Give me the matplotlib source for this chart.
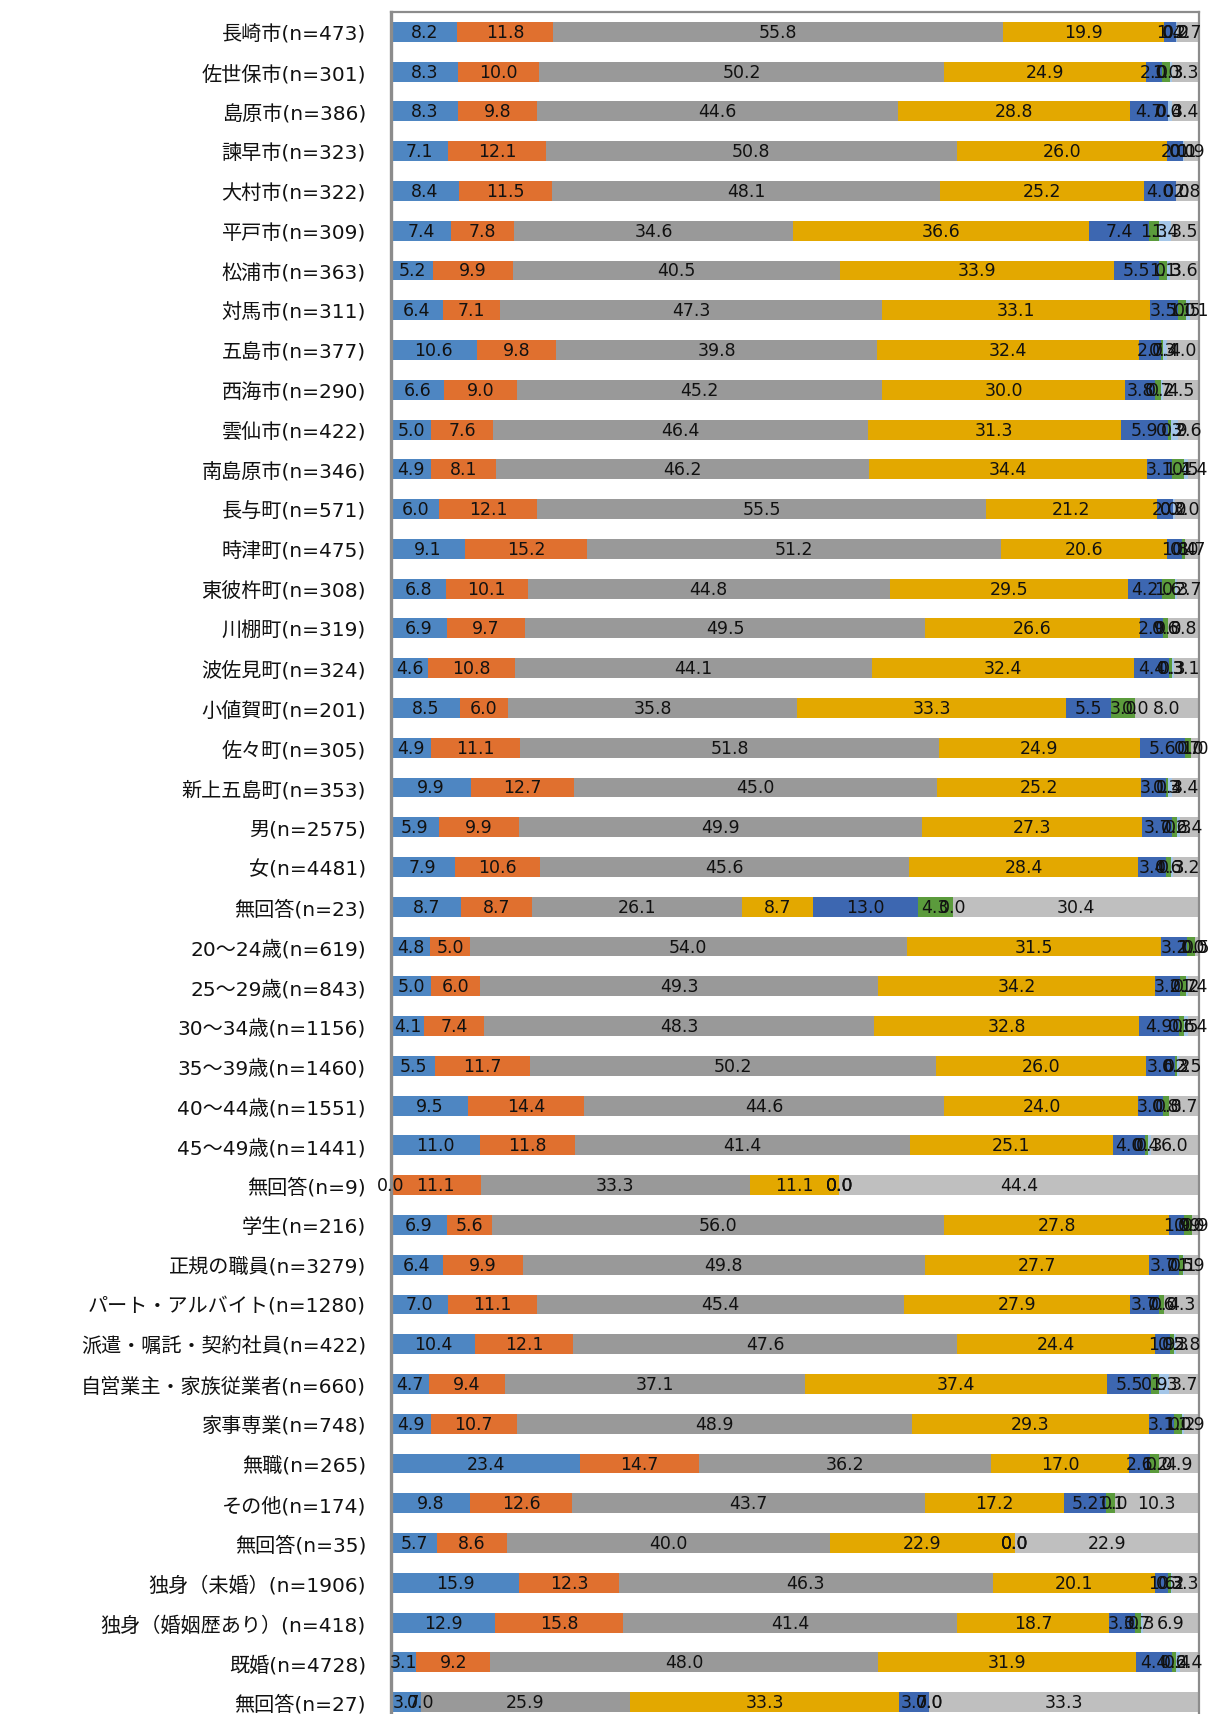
import numpy as np
import matplotlib
matplotlib.use('Agg')
import matplotlib.pyplot as plt

plt.rcParams['font.family'] = ['DejaVu Sans', 'Noto Sans CJK JP']

categories = [
    '長崎市(n=473)', '佐世保市(n=301)', '島原市(n=386)', '諫早市(n=323)', '大村市(n=322)',
    '平戸市(n=309)', '松浦市(n=363)', '対馬市(n=311)', '五島市(n=377)', '西海市(n=290)',
    '雲仙市(n=422)', '南島原市(n=346)', '長与町(n=571)', '時津町(n=475)', '東彼杵町(n=308)',
    '川棚町(n=319)', '波佐見町(n=324)', '小値賀町(n=201)', '佐々町(n=305)', '新上五島町(n=353)',
    '男(n=2575)', '女(n=4481)', '無回答(n=23)',
    '20～24歳(n=619)', '25～29歳(n=843)', '30～34歳(n=1156)', '35～39歳(n=1460)',
    '40～44歳(n=1551)', '45～49歳(n=1441)', '無回答(n=9)',
    '学生(n=216)', '正規の職員(n=3279)', 'パート・アルバイト(n=1280)', '派遣・嘱託・契約社員(n=422)',
    '自営業主・家族従業者(n=660)', '家事専業(n=748)', '無職(n=265)', 'その他(n=174)', '無回答(n=35)',
    '独身（未婚）(n=1906)', '独身（婚姻歴あり）(n=418)', '既婚(n=4728)', '無回答(n=27)',
]

s1 = [8.2, 8.3, 8.3, 7.1, 8.4, 7.4, 5.2, 6.4, 10.6, 6.6, 5.0, 4.9, 6.0, 9.1, 6.8, 6.9, 4.6, 8.5, 4.9, 9.9,
      5.9, 7.9, 8.7, 4.8, 5.0, 4.1, 5.5, 9.5, 11.0, 0.0, 6.9, 6.4, 7.0, 10.4, 4.7, 4.9, 23.4, 9.8, 5.7,
      15.9, 12.9, 3.1, 3.7]
s2 = [11.8, 10.0, 9.8, 12.1, 11.5, 7.8, 9.9, 7.1, 9.8, 9.0, 7.6, 8.1, 12.1, 15.2, 10.1, 9.7, 10.8, 6.0, 11.1, 12.7,
      9.9, 10.6, 8.7, 5.0, 6.0, 7.4, 11.7, 14.4, 11.8, 11.1, 5.6, 9.9, 11.1, 12.1, 9.4, 10.7, 14.7, 12.6, 8.6,
      12.3, 15.8, 9.2, 0.0]
s3 = [55.8, 50.2, 44.6, 50.8, 48.1, 34.6, 40.5, 47.3, 39.8, 45.2, 46.4, 46.2, 55.5, 51.2, 44.8, 49.5, 44.1, 35.8, 51.8, 45.0,
      49.9, 45.6, 26.1, 54.0, 49.3, 48.3, 50.2, 44.6, 41.4, 33.3, 56.0, 49.8, 45.4, 47.6, 37.1, 48.9, 36.2, 43.7, 40.0,
      46.3, 41.4, 48.0, 25.9]
s4 = [19.9, 24.9, 28.8, 26.0, 25.2, 36.6, 33.9, 33.1, 32.4, 30.0, 31.3, 34.4, 21.2, 20.6, 29.5, 26.6, 32.4, 33.3, 24.9, 25.2,
      27.3, 28.4, 8.7, 31.5, 34.2, 32.8, 26.0, 24.0, 25.1, 11.1, 27.8, 27.7, 27.9, 24.4, 37.4, 29.3, 17.0, 17.2, 22.9,
      20.1, 18.7, 31.9, 33.3]
s5 = [1.4, 2.0, 4.7, 2.0, 4.0, 7.4, 5.5, 3.5, 2.7, 3.8, 5.9, 3.1, 2.0, 1.8, 4.2, 2.9, 4.4, 5.5, 5.6, 3.1,
      3.7, 3.4, 13.0, 3.2, 3.2, 4.9, 3.6, 3.0, 4.0, 0.0, 1.9, 3.7, 3.7, 1.9, 5.5, 3.1, 2.6, 5.2, 0.0,
      1.6, 3.3, 4.4, 3.7]
s6 = [0.0, 1.0, 0.0, 0.0, 0.0, 1.3, 1.1, 1.0, 0.3, 0.7, 0.3, 1.4, 0.0, 0.4, 1.6, 0.6, 0.3, 3.0, 0.7, 0.3,
      0.6, 0.6, 4.3, 1.0, 0.7, 0.6, 0.3, 0.8, 0.4, 0.0, 0.9, 0.5, 0.6, 0.5, 0.9, 1.0, 1.2, 1.1, 0.0,
      0.3, 0.7, 0.6, 0.0]
s7 = [0.2, 0.3, 0.4, 0.1, 0.0, 1.4, 0.3, 0.5, 0.4, 0.2, 0.9, 0.5, 0.2, 0.0, 0.3, 0.0, 0.3, 0.0, 0.0, 0.4,
      0.3, 0.3, 0.0, 0.0, 0.2, 0.5, 0.2, 0.0, 0.3, 0.0, 0.0, 0.1, 0.0, 0.3, 1.3, 0.2, 0.0, 0.0, 0.0,
      0.2, 0.3, 0.4, 0.0]
s8 = [2.7, 3.3, 3.4, 1.9, 2.8, 3.5, 3.6, 1.1, 4.0, 4.5, 2.6, 1.4, 3.0, 1.7, 2.7, 3.8, 3.1, 8.0, 1.0, 3.4,
      2.4, 3.2, 30.4, 0.5, 1.4, 1.4, 2.5, 3.7, 6.0, 44.4, 0.9, 1.9, 4.3, 2.8, 3.7, 1.9, 4.9, 10.3, 22.9,
      3.3, 6.9, 2.4, 33.3]

series = [s1, s2, s3, s4, s5, s6, s7, s8]
colors = ['#4e86c2', '#e0702f', '#999999', '#e3a800', '#3d67b1', '#5b9b3c', '#a4c6e8', '#bfbfbf']

W, H = 1211, 1715
fig = plt.figure(figsize=(W / 100, H / 100), dpi=100)
ax = fig.add_axes([391 / W, -8 / H, (1199 - 391) / W, (1723 - 13) / H])

y = np.arange(len(categories))
left = np.zeros(len(categories))
for vals, col in zip(series, colors):
    vals = np.array(vals)
    bars = ax.barh(y, vals, left=left, height=0.5, color=col, edgecolor='none')
    ax.bar_label(bars, labels=[f'{v:.1f}' for v in vals], label_type='center',
                 fontsize=12.5, color='#111111')
    left += vals

ax.set_xlim(0, 100)
ax.set_ylim(len(categories) - 0.5, -0.5)
ax.set_xticks([])
ax.set_yticks(y, categories)
ax.tick_params(axis='y', length=0, pad=18, labelsize=14.5, labelcolor='#111111')

ax.spines['bottom'].set_visible(False)
ax.spines['left'].set_linewidth(2.4)
ax.spines['left'].set_color('#8c8c8c')
for side in ['top', 'right']:
    ax.spines[side].set_linewidth(1.6)
    ax.spines[side].set_color('#8c8c8c')

fig.savefig('out.png', dpi=100)
